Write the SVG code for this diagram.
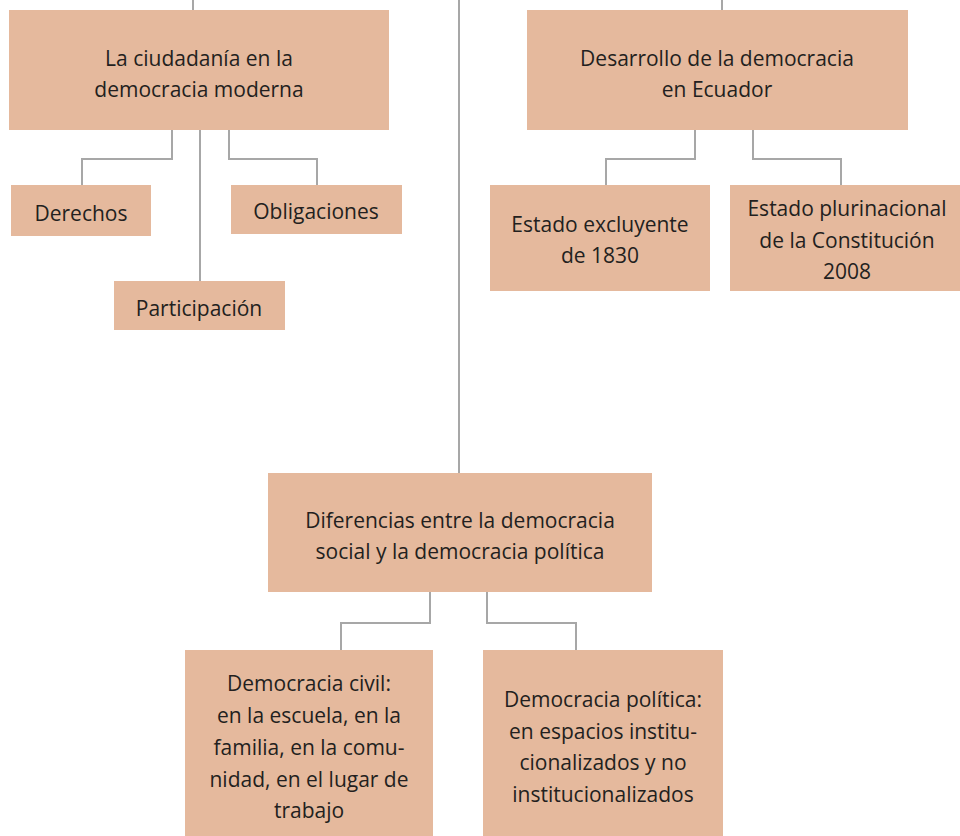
<svg xmlns="http://www.w3.org/2000/svg" width="960" height="836" viewBox="0 0 960 836">
<style>
.box{fill:#e5b99d}
.t{font-family:"Open Sans","Noto Sans","Liberation Sans",sans-serif;font-size:21px;fill:#231f20;text-anchor:middle}
.c{fill:none;stroke:#a7a7a7;stroke-width:2}
</style>
<rect width="960" height="836" fill="#ffffff"/>
<g id="connectors">
<path class="c" d="M193,0V10"/>
<path class="c" d="M722,0V10"/>
<path class="c" d="M459,0V473"/>
<path class="c" d="M172,130V159H82V185"/>
<path class="c" d="M200,130V281"/>
<path class="c" d="M229,130V159H317V185"/>
<path class="c" d="M695,130V159H606V185"/>
<path class="c" d="M753,130V159H841V185"/>
<path class="c" d="M430,592V623H341V650"/>
<path class="c" d="M487,592V623H576V650"/>
</g>
<g id="ciudadania">
<rect class="box" x="9" y="10" width="380" height="120"/>
<text class="t" x="199" y="66">La ciudadanía en la</text>
<text class="t" x="199" y="97">democracia moderna</text>
</g>
<g id="derechos">
<rect class="box" x="11" y="185" width="140" height="51"/>
<text class="t" x="81" y="221">Derechos</text>
</g>
<g id="obligaciones">
<rect class="box" x="231" y="185" width="171" height="49"/>
<text class="t" x="316" y="219">Obligaciones</text>
</g>
<g id="participacion">
<rect class="box" x="114" y="281" width="171" height="49"/>
<text class="t" x="199" y="316">Participación</text>
</g>
<g id="desarrollo">
<rect class="box" x="527" y="10" width="381" height="120"/>
<text class="t" x="717" y="66">Desarrollo de la democracia</text>
<text class="t" x="717" y="97">en Ecuador</text>
</g>
<g id="excluyente">
<rect class="box" x="490" y="185" width="220" height="106"/>
<text class="t" x="600" y="232">Estado excluyente</text>
<text class="t" x="600" y="263">de 1830</text>
</g>
<g id="plurinacional">
<rect class="box" x="730" y="185" width="230" height="106"/>
<text class="t" x="847" y="216">Estado plurinacional</text>
<text class="t" x="847" y="248">de la Constitución</text>
<text class="t" x="847" y="279">2008</text>
</g>
<g id="diferencias">
<rect class="box" x="268" y="473" width="384" height="119"/>
<text class="t" x="460" y="528">Diferencias entre la democracia</text>
<text class="t" x="460" y="559">social y la democracia política</text>
</g>
<g id="civil">
<rect class="box" x="185" y="650" width="248" height="186"/>
<text class="t" x="309" y="691">Democracia civil:</text>
<text class="t" x="309" y="723">en la escuela, en la</text>
<text class="t" x="309" y="755">familia, en la comu-</text>
<text class="t" x="309" y="787">nidad, en el lugar de</text>
<text class="t" x="309" y="818">trabajo</text>
</g>
<g id="politica">
<rect class="box" x="483" y="650" width="240" height="186"/>
<text class="t" x="603" y="707">Democracia política:</text>
<text class="t" x="603" y="739">en espacios institu-</text>
<text class="t" x="603" y="770">cionalizados y no</text>
<text class="t" x="603" y="802">institucionalizados</text>
</g>
</svg>
